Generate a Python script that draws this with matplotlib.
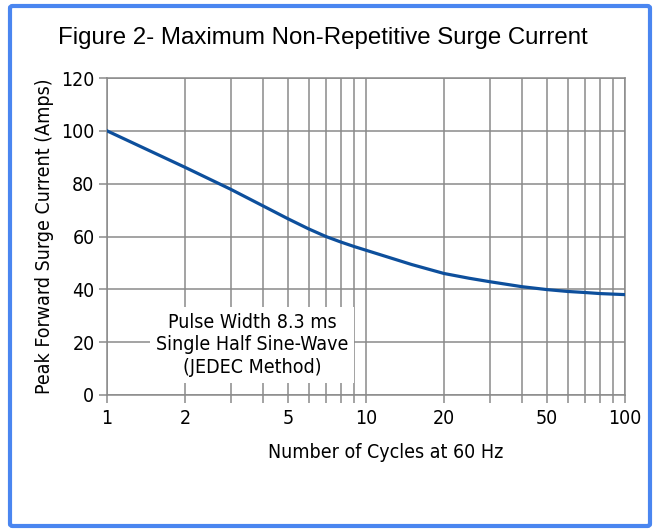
import matplotlib
matplotlib.use("Agg")
import matplotlib.pyplot as plt
from matplotlib import font_manager
from matplotlib.patches import FancyBboxPatch
from matplotlib.ticker import FixedLocator, NullFormatter

# values
cycles = [1, 2, 3, 4, 5, 6, 7, 8, 9, 10, 15, 20, 25, 30, 40, 50, 60, 70, 80, 100]
surge_amps = [100, 86.2, 77.9, 71.6, 66.7, 62.9, 60.0, 57.9, 56.2, 54.8,
              49.4, 46.0, 44.2, 42.9, 41.0, 39.9, 39.2, 38.8, 38.4, 38.0]
x_major = [1, 2, 5, 10, 20, 50, 100]
x_grid = [1, 2, 3, 4, 5, 6, 7, 8, 9, 10, 20, 30, 40, 50, 60, 70, 80, 90, 100]
y_ticks = [0, 20, 40, 60, 80, 100, 120]

names = {f.name for f in font_manager.fontManager.ttflist}
if "Liberation Sans Narrow" in names:
    cond = dict(family="Liberation Sans Narrow")
else:
    cond = dict(family="DejaVu Sans", stretch="condensed")
cond_fp = font_manager.FontProperties(**cond)

grid_c = "#8a8a8a"
line_c = "#0d4f9c"

fig = plt.figure(figsize=(6.6, 5.32), dpi=100)
ax = fig.add_axes([107 / 660, 1 - 395 / 532, 518 / 660, 317 / 532])

ax.plot(cycles, surge_amps, color=line_c, lw=2.3, solid_joinstyle="round", zorder=4)

ax.set_xscale("log")
ax.set_xlim(1, 100)
ax.set_ylim(0, 120)
ax.xaxis.set_major_locator(FixedLocator(x_major))
ax.xaxis.set_minor_locator(FixedLocator(x_grid))
ax.xaxis.set_minor_formatter(NullFormatter())
ax.set_xticklabels([str(v) for v in x_major])
ax.set_yticks(y_ticks)

for v in x_grid:
    ax.axvline(v, color=grid_c, lw=1.1, zorder=1)
for v in y_ticks:
    ax.axhline(v, color=grid_c, lw=1.1, zorder=1)

for s in ax.spines.values():
    s.set_color(grid_c)
    s.set_linewidth(1.1)
ax.tick_params(which="both", color=grid_c, width=1.1, length=6)
ax.tick_params(axis="x", pad=4)
ax.tick_params(axis="y", pad=3)
for lab in ax.get_xticklabels() + ax.get_yticklabels():
    lab.set_fontproperties(cond_fp)
    lab.set_fontsize(14)

ax.set_xlabel("Number of Cycles at 60 Hz", fontsize=14, **cond)
ax.xaxis.set_label_coords((386 - 107) / 518, -0.152)
ax.set_ylabel("Peak Forward Surge Current (Amps)", fontsize=14, labelpad=5, **cond)

ax.text(0.28, 0.158, "Pulse Width 8.3 ms\nSingle Half Sine-Wave\n(JEDEC Method)",
        transform=ax.transAxes, ha="center", va="center", fontsize=14,
        linespacing=1.25, zorder=3,
        bbox=dict(facecolor="white", edgecolor="none", pad=4), **cond)

fig.text(323 / 660, 1 - 44 / 532, "Figure 2- Maximum Non-Repetitive Surge Current",
         ha="center", va="baseline", fontsize=17.3, family="Liberation Sans")

border = FancyBboxPatch((10 / 660, 6 / 532), 640 / 660, 520 / 532,
                        boxstyle="round,pad=0,rounding_size=0.004",
                        transform=fig.transFigure, facecolor="none",
                        edgecolor="#4a86f0", lw=3, zorder=10)
fig.patches.append(border)

fig.savefig("out.png", dpi=100)
